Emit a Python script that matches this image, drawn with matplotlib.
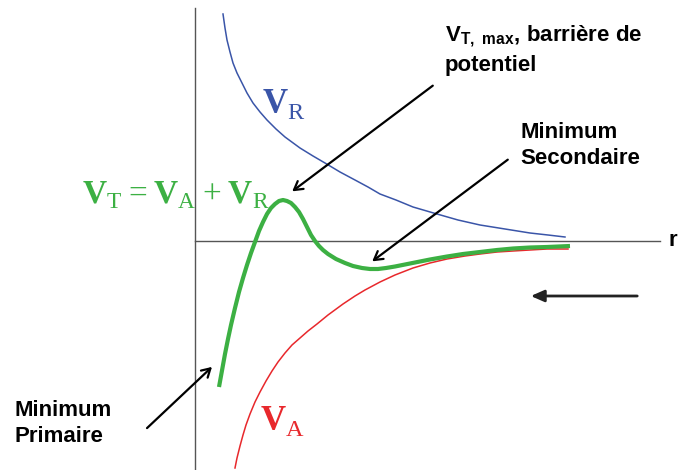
import matplotlib
matplotlib.use("Agg")
import matplotlib.pyplot as plt

# origin = where the two axis lines cross; units are arbitrary
r_R = [28, 29, 30, 32, 35, 38, 42, 47, 52, 58, 65, 72, 81, 90, 105, 118, 130, 145, 160,
       173, 185, 201, 218, 242, 263, 285, 310, 335, 353, 370]
V_R = [227, 220, 213, 201, 189, 178, 168, 158, 148, 138, 129, 121, 112, 104, 93, 85, 78,
       69, 61, 54, 47, 41, 34, 27, 21, 16, 12, 8, 6, 4]

r_A = [40, 42, 45, 48, 51, 55, 60, 65, 71, 77, 83, 90, 97, 105, 113, 122, 133, 148, 160,
       170, 185, 200, 218, 235, 252, 270, 285, 302, 318, 335, 352, 373]
V_A = [-227, -217, -205, -194, -184, -173, -161, -151, -140, -130, -121, -112, -104, -97,
       -90, -83, -74, -63, -55, -49, -41, -34, -27, -22, -18, -15, -13, -11, -10, -9, -8, -8]

r_T = [24, 26, 28, 30, 33, 36, 40, 44, 48, 52, 56, 60, 64, 68, 72, 76, 80, 84, 88, 92,
       96, 100, 104, 108, 112, 116, 120, 124, 128, 133, 141, 150, 158, 167, 175, 183,
       191, 200, 210, 220, 235, 252, 268, 285, 302, 318, 335, 352, 375]
V_T = [-146, -135, -124, -113, -98, -84, -67, -51, -37, -24, -12, -1, 10, 19, 27, 33, 37,
       40, 41, 40, 38, 34, 29, 22, 14, 6, 0, -5, -9, -13, -18, -22, -25, -27, -28, -28,
       -27, -25.5, -23.5, -21.5, -18.5, -15.5, -13, -11, -9, -7.5, -6.5, -6, -5]

blue = "#3a55a8"
red = "#e8282c"
green = "#3cb043"

plt.rcParams["font.family"] = ["Liberation Sans", "DejaVu Sans"]
plt.rcParams["mathtext.fontset"] = "custom"
plt.rcParams["mathtext.rm"] = "Liberation Serif"
plt.rcParams["mathtext.bf"] = "Liberation Serif:bold"
plt.rcParams["mathtext.sf"] = "Liberation Sans:bold"

fig = plt.figure(figsize=(6.86, 4.70), dpi=100)
ax = fig.add_axes([0, 0, 1, 1])
ax.set_xlim(-195, 491)
ax.set_ylim(-229, 241)
ax.axis("off")

# axis lines
ax.plot([0, 0], [-229, 233], color="#555555", lw=1.0)
ax.plot([0, 465], [0, 0], color="#555555", lw=1.0)
ax.text(478, 1, "r", fontsize=16, fontweight="bold", ha="center", va="center")

ax.plot(r_R, V_R, color=blue, lw=1.1, solid_joinstyle="round")
ax.plot(r_A, V_A, color=red, lw=1.1, solid_joinstyle="round")
ax.plot(r_T, V_T, color=green, lw=3.0, solid_capstyle="butt", solid_joinstyle="round")

ax.text(67, 128, r"$\mathbf{V}_{\mathrm{R}}$", color=blue, fontsize=25, va="baseline")
ax.text(65, -189, r"$\mathbf{V}_{\mathrm{A}}$", color=red, fontsize=25, va="baseline")
ax.text(-113, 38, r"$\mathbf{V}_{\mathrm{T}}=\mathbf{V}_{\mathrm{A}}+\mathbf{V}_{\mathrm{R}}$",
        color=green, fontsize=24, va="baseline")

lab = dict(fontsize=16, fontweight="bold", va="center", ha="left")
ax.text(250, 205, r"V$_{\mathsf{T,\ max}}$, barrière de", **lab)
ax.text(250, 175, "potentiel", **lab)
ax.text(325, 109, "Minimum", **lab)
ax.text(325, 83, "Secondaire", **lab)
ax.text(-180, -169, "Minimum", **lab)
ax.text(-180, -196, "Primaire", **lab)

arr = dict(arrowstyle="->,head_length=0.6,head_width=0.35", color="black", lw=1.6)
ax.annotate("", xy=(95, 48), xytext=(240, 157), arrowprops=arr)
ax.annotate("", xy=(175, -22), xytext=(315, 83), arrowprops=arr)
ax.annotate("", xy=(19, -124), xytext=(-50, -189), arrowprops=arr)
ax.annotate("", xy=(333, -55), xytext=(445, -55),
            arrowprops=dict(arrowstyle="-|>,head_length=0.8,head_width=0.35",
                            color="#222222", lw=2.0))

fig.savefig("out.png", dpi=100)
